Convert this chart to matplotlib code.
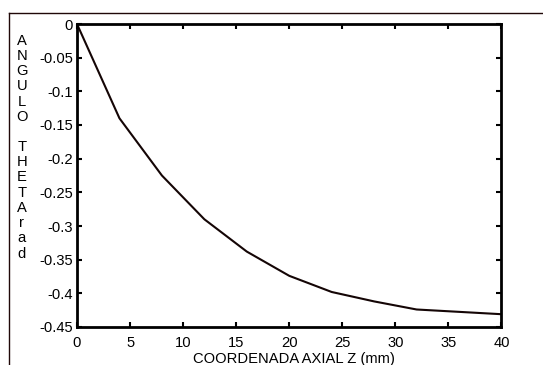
import matplotlib
matplotlib.use("Agg")
import matplotlib.pyplot as plt
from matplotlib.lines import Line2D

plt.rcParams['font.family'] = ['Liberation Sans', 'DejaVu Sans']
plt.rcParams['axes.unicode_minus'] = False

z = [0, 4, 8, 12, 16, 20, 24, 28, 32, 40]
theta = [0.0, -0.140, -0.225, -0.290, -0.338, -0.374, -0.398, -0.412, -0.424, -0.431]
xticks = [0, 5, 10, 15, 20, 25, 30, 35, 40]
yticks = [0, -0.05, -0.1, -0.15, -0.2, -0.25, -0.3, -0.35, -0.4, -0.45]
ytick_labels = ['0', '-0.05', '-0.1', '-0.15', '-0.2', '-0.25', '-0.3', '-0.35', '-0.4', '-0.45']
xlabel = 'COORDENADA AXIAL Z (mm)'
ylabel_letters = list('ANGULO') + [''] + list('THETArad')

FS = 10.6
W, H = 543, 365
fig = plt.figure(figsize=(W / 100, H / 100), dpi=100)
ax = fig.add_axes([77 / W, 1 - 327 / H, (501.5 - 77) / W, (327 - 24) / H])

ax.plot(z, theta, color='#140505', lw=1.5)
ax.set_xlim(0, 40)
ax.set_ylim(-0.45, 0)
ax.set_xticks(xticks)
ax.set_xticklabels([str(t) for t in xticks])
ax.set_yticks(yticks)
ax.set_yticklabels(ytick_labels)
for s in ax.spines.values():
    s.set_linewidth(2.0)
    s.set_color('black')
ax.tick_params(direction='in', length=3.5, width=1.5, top=True, right=True,
               labelsize=FS, colors='black')
ax.tick_params(axis='x', pad=6.5)
ax.tick_params(axis='y', pad=3)
ax.set_xlabel(xlabel, fontsize=FS, va='center')
ax.xaxis.set_label_coords((294 - 77) / (501.5 - 77), (327 - 358.5) / (327 - 24))

# vertical stacked y label
y0, dy = 40.7, 15.2
for i, ch in enumerate(ylabel_letters):
    if ch:
        fig.text(22 / W, 1 - (y0 + i * dy) / H, ch, ha='center', va='center', fontsize=FS)

# outer frame lines (top and left)
fig.add_artist(Line2D([9.3 / W, 1.0], [1 - 12.7 / H, 1 - 12.7 / H], transform=fig.transFigure,
                      color='#200808', lw=1.0))
fig.add_artist(Line2D([9.3 / W, 9.3 / W], [1 - 12.7 / H, 0.0], transform=fig.transFigure,
                      color='#200808', lw=1.0))

fig.savefig('out.png', dpi=100)
